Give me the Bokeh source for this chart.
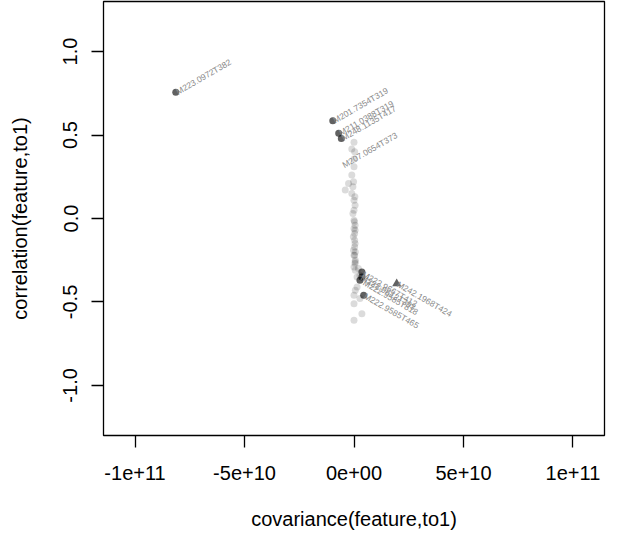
from bokeh.plotting import figure
from bokeh.models import Range1d, FixedTicker
from bokeh.core.properties import value
from bokeh.embed import file_html
from bokeh.resources import INLINE

# covariance values in units of 1e10
bg_cov = [0, -0.1, 0, 0, -0.1, -0.25, -0.4, -0.1, 0, 0.05, 0, -0.05, 0, 0.05, 0, 0.03, -0.03,
          0.03, 0.05, 0.03, -0.02, 0.06, 0.03, 0.06, 0.05, 0.06, 0, 0.05, 0, 0.2, 0.27, 0.14,
          0.14, 0.06, 0, 0.27, 0, 0.36, 0, -0.05, 0.04, 0.02, 0.05, -0.02, 0.03]
bg_cor = [0.457, 0.417, 0.357, 0.31, 0.26, 0.21, 0.17, 0.15, 0.11, 0.08, 0.05, 0.03, -0.01,
          -0.04, -0.06, -0.09, -0.11, -0.13, -0.15, -0.17, -0.19, -0.2, -0.22, -0.25, -0.27,
          -0.31, -0.29, -0.26, -0.22, -0.30, -0.34, -0.35, -0.41, -0.43, -0.46, -0.48, -0.51,
          -0.57, -0.61, 0.19, 0.13, -0.02, -0.07, 0.22, 0.40]

hl_cov = [-8.14, -0.97, -0.70, -0.58, 0.36, 0.36, 0.27, 0.44]
hl_cor = [0.756, 0.585, 0.51, 0.48, -0.32, -0.35, -0.37, -0.46]

tri_cov = [1.95]
tri_cor = [-0.39]

lab_cov = [-8.14, -0.97, -0.70, -0.58, -0.55, 0.36, 1.95, 0.30, 0.40, 0.44]
lab_cor = [0.756, 0.585, 0.51, 0.48, 0.317, -0.33, -0.39, -0.35, -0.38, -0.46]
lab_text = ["M223.0972T382", "M201.7354T319", "M211.0388T319", "M248.1135T417",
            "M207.0654T373", "M222.9667T412", "M242.1968T424", "M222.9612T393",
            "M222.9585T818", "M222.9585T465"]

x_ticks = [-1e11, -5e10, 0, 5e10, 1e11]
x_tick_labels = ["-1e+11", "-5e+10", "0e+00", "5e+10", "1e+11"]
y_ticks = [-1.0, -0.5, 0.0, 0.5, 1.0]
y_tick_labels = ["-1.0", "-0.5", "0.0", "0.5", "1.0"]

E = 1e10
FONT = "Liberation Sans"

p = figure(width=619, height=541, output_backend="svg", toolbar_location=None,
           x_range=Range1d(-1.144e11, 1.144e11), y_range=Range1d(-1.3, 1.3),
           min_border_left=103, min_border_right=15, min_border_top=1, min_border_bottom=106)
p.grid.visible = False
p.outline_line_color = "black"
p.outline_line_width = 1.3
p.background_fill_color = "white"
p.border_fill_color = "white"

p.scatter([c * E for c in bg_cov], bg_cor, size=7, fill_color="black", fill_alpha=0.14,
          line_color=None)
p.scatter([c * E for c in hl_cov], hl_cor, size=7, fill_color="black", fill_alpha=0.62,
          line_color=None)
p.scatter([c * E for c in tri_cov], tri_cor, marker="triangle", size=9, fill_color="black",
          fill_alpha=0.62, line_color=None)

angles = [30 if c > 0 else -30 for c in lab_cor]
p.text([c * E for c in lab_cov], lab_cor, text=lab_text, angle=angles, angle_units="deg",
       text_font=value(FONT), text_font_size="8.5px", text_color="#8a8a8a",
       text_align="left", text_baseline="middle", x_offset=1)

p.xaxis.ticker = FixedTicker(ticks=x_ticks)
p.xaxis.major_label_overrides = {t: l for t, l in zip(x_ticks, x_tick_labels)}
p.yaxis.ticker = FixedTicker(ticks=y_ticks)
p.yaxis.major_label_overrides = {t: l for t, l in zip(y_ticks, y_tick_labels)}
p.yaxis.major_label_orientation = "vertical"

for ax in (p.xaxis, p.yaxis):
    ax.axis_line_color = None
    ax.minor_tick_line_color = None
    ax.major_tick_in = 0
    ax.major_tick_out = 12
    ax.major_tick_line_width = 1.3
    ax.major_label_text_font = FONT
    ax.major_label_text_font_size = "20px"
    ax.major_label_text_color = "black"
    ax.axis_label_text_font = FONT
    ax.axis_label_text_font_size = "20px"
    ax.axis_label_text_font_style = "normal"
    ax.axis_label_text_color = "black"

p.xaxis.major_label_standoff = 18
p.yaxis.major_label_standoff = 14
p.xaxis.axis_label = "covariance(feature,to1)"
p.yaxis.axis_label = "correlation(feature,to1)"
p.xaxis.axis_label_standoff = 25
p.yaxis.axis_label_standoff = 30

open("out.html", "w").write(file_html(p, INLINE))
